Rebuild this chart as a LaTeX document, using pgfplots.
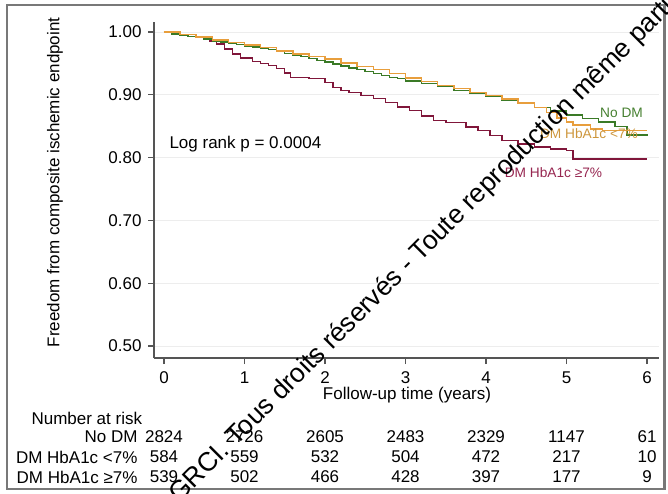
\documentclass[border=0pt]{standalone}
\usepackage{fontspec}
\setmainfont{Liberation Sans}
\usepackage{pgfplots}
\pgfplotsset{compat=1.18}
\definecolor{cgreen}{RGB}{58,122,38}
\definecolor{corange}{RGB}{232,158,60}
\definecolor{cred}{RGB}{128,22,58}
\definecolor{lgreen}{RGB}{70,128,48}
\definecolor{lorange}{RGB}{205,150,60}
\definecolor{lred}{RGB}{150,38,80}
\definecolor{axgray}{RGB}{85,85,85}
\definecolor{framegray}{RGB}{120,120,120}
\newcommand\fs{\fontsize{17}{20}\selectfont}
\newcommand\fss{\fontsize{13.7}{16}\selectfont}
\begin{document}
\begin{tikzpicture}[x=1pt,y=1pt]
\draw[framegray, line width=2.4pt] (7,4) rectangle (664.6,488);
\begin{axis}[
  scale only axis, width=505pt, height=336pt,
  at={(154pt,135pt)}, anchor=south west,
  xmin=-0.124, xmax=6.149, ymin=0.481, ymax=1.016,
  axis lines=left, axis line style={-, axgray, line width=1.2pt},
  xtick={0,1,2,3,4,5,6}, ytick={0.5,0.6,0.7,0.8,0.9,1.0},
  tick align=outside, major tick length=6pt,
  tick style={axgray, line width=1.2pt},
  ymajorgrids, major grid style={black!7, line width=0.8pt},
  /pgf/number format/assume math mode=true,
  ticklabel style={font=\fs},
  xticklabel style={yshift=-4pt},
  yticklabel style={xshift=-3pt, /pgf/number format/.cd, fixed, fixed zerofill, precision=2},
  clip=false,
]
\addplot[const plot, cred, line width=1.5pt] coordinates {
(0,1.000) (0.1,0.998) (0.2,0.996) (0.3,0.993) (0.4,0.991) (0.5,0.989)
(0.57,0.986) (0.65,0.981) (0.75,0.973) (0.85,0.965) (0.95,0.959)
(1.1,0.953) (1.2,0.950) (1.3,0.947) (1.4,0.942) (1.5,0.935) (1.57,0.928)
(1.8,0.926) (2.0,0.920) (2.1,0.912) (2.2,0.907) (2.3,0.904) (2.45,0.899)
(2.6,0.894) (2.75,0.888) (2.9,0.881) (3.05,0.875) (3.2,0.866) (3.35,0.859)
(3.5,0.856) (3.75,0.849) (3.9,0.843) (4.05,0.835) (4.2,0.827) (4.4,0.822)
(4.6,0.817) (4.8,0.814) (5.0,0.811) (5.08,0.798) (6.0,0.798)};
\addplot[const plot, cgreen, line width=1.5pt] coordinates {
(0,1.000) (0.1,0.997) (0.2,0.995) (0.3,0.993) (0.4,0.991) (0.5,0.989)
(0.6,0.986) (0.7,0.984) (0.8,0.982) (0.9,0.980) (1.0,0.978) (1.1,0.976)
(1.2,0.974) (1.3,0.972) (1.4,0.969) (1.5,0.966) (1.6,0.963) (1.7,0.961)
(1.8,0.958) (1.9,0.955) (2.0,0.952) (2.1,0.949) (2.2,0.946) (2.3,0.943)
(2.4,0.940) (2.5,0.937) (2.6,0.934) (2.7,0.931) (2.8,0.928) (2.9,0.926)
(3.0,0.922) (3.2,0.918) (3.4,0.913) (3.6,0.907) (3.8,0.902) (4.0,0.897)
(4.2,0.891) (4.4,0.886) (4.6,0.880) (4.8,0.874) (5.0,0.868) (5.2,0.862)
(5.4,0.857) (5.6,0.850) (5.75,0.836) (6.0,0.834)};
\addplot[const plot, corange, line width=1.5pt] coordinates {
(0,1.000) (0.2,0.996) (0.4,0.992) (0.6,0.987) (0.8,0.983) (1.0,0.979)
(1.2,0.975) (1.4,0.970) (1.6,0.965) (1.8,0.961) (2.0,0.957) (2.2,0.951)
(2.4,0.945) (2.6,0.940) (2.8,0.934) (3.0,0.927) (3.2,0.921) (3.4,0.915)
(3.6,0.910) (3.8,0.904) (4.0,0.899) (4.2,0.893) (4.4,0.887) (4.6,0.880)
(4.75,0.872) (4.88,0.863) (5.0,0.857) (5.08,0.852) (5.3,0.846) (5.45,0.843)
(6.0,0.843)};
\end{axis}
% annotations
\node[font=\fs, anchor=west] at (166,349) {Log rank p = 0.0004};
\node[font=\fss, text=lgreen] at (621.5,380) {No DM};
\node[font=\fss, text=lorange] at (589,359) {DM HbA1c <7\%};
\node[font=\fss, text=lred] at (553.5,320) {DM HbA1c ≥7\%};
\node[font=\fs, rotate=90] at (55,310.5) {Freedom from composite ischemic endpoint};
\node[font=\fs] at (407,98) {Follow-up time (years)};
% number at risk
\node[font=\fs, anchor=west] at (28,75) {Number at risk};
\node[font=\fs, anchor=east] at (141,56) {No DM};
\node[font=\fs, anchor=east] at (141,36) {DM HbA1c <7\%};
\node[font=\fs, anchor=east] at (141,16) {DM HbA1c ≥7\%};
\foreach \t/\a/\b/\c in {0/2824/584/539, 1/2726/559/502, 2/2605/532/466, 3/2483/504/428, 4/2329/472/397, 5/1147/217/177, 6/61/10/9} {
  \pgfmathsetmacro\xx{164+80.5*\t}
  \node[font=\fs] at (\xx,56) {\a};
  \node[font=\fs] at (\xx,36) {\b};
  \node[font=\fs] at (\xx,16) {\c};
}
% watermark (clipped to the picture)
\begin{scope}
\clip (0,0) rectangle (668,493);
\node[font=\fontsize{26.5}{30}\selectfont, rotate=45, anchor=base west, inner sep=0pt] at (179,-11) {GRCI. Tous droits réservés - Toute reproduction même partielle interdite};
\end{scope}
\useasboundingbox (0,0) rectangle (668,493);
\end{tikzpicture}
\end{document}
